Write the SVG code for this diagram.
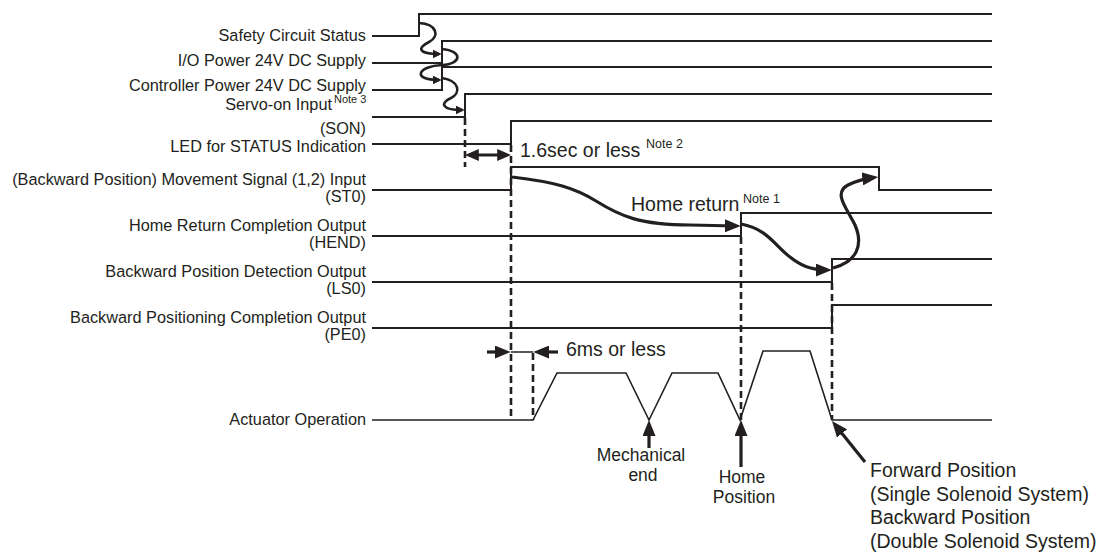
<svg xmlns="http://www.w3.org/2000/svg" width="1104" height="554" viewBox="0 0 1104 554">
<style>
  text { font-family: "Liberation Sans", Arial, Helvetica, sans-serif; fill: #231f20; }
  .lbl { font-size: 16.3px; text-anchor: end; }
  .big { font-size: 19.5px; }
  .stack { font-size: 17.5px; text-anchor: middle; }
  .note { font-size: 12.5px; }
  .sig { fill: none; stroke: #231f20; stroke-width: 2; stroke-linejoin: miter; }
  .act { fill: none; stroke: #231f20; stroke-width: 1.6; stroke-linejoin: miter; }
  .dash { fill: none; stroke: #231f20; stroke-width: 2.6; stroke-dasharray: 7 4; }
  .cur { fill: none; stroke: #231f20; stroke-width: 3.2; stroke-linecap: butt; }
  .cur2 { fill: none; stroke: #231f20; stroke-width: 2.6; }
  .thin { fill: none; stroke: #231f20; stroke-width: 1.5; }
</style>
<defs>
  <marker id="arrS" markerUnits="userSpaceOnUse" viewBox="0 0 10 10" refX="7" refY="5" markerWidth="9" markerHeight="9" orient="auto">
    <path d="M0,0 L10,5 L0,10 z" fill="#231f20"/>
  </marker>
  <marker id="arrL" markerUnits="userSpaceOnUse" viewBox="0 0 10 10" refX="7" refY="5" markerWidth="16" markerHeight="13" orient="auto-start-reverse" preserveAspectRatio="none">
    <path d="M0,0 L10,5 L0,10 z" fill="#231f20"/>
  </marker>
  <marker id="arrM" markerUnits="userSpaceOnUse" viewBox="0 0 10 10" refX="7" refY="5" markerWidth="14" markerHeight="12" orient="auto-start-reverse" preserveAspectRatio="none">
    <path d="M0,0 L10,5 L0,10 z" fill="#231f20"/>
  </marker>
</defs>

<g id="safety">
  <text class="lbl" x="366" y="41">Safety Circuit Status</text>
  <polyline class="sig" points="372,36 419,36 419,14 992,14"/>
</g>
<g id="io-power">
  <text class="lbl" x="366" y="66">I/O Power 24V DC Supply</text>
  <polyline class="sig" points="372,63 442,63 442,41 992,41"/>
</g>
<g id="ctrl-power">
  <text class="lbl" x="366" y="91">Controller Power 24V DC Supply</text>
  <polyline class="sig" points="372,90 442,90 442,67 992,67"/>
</g>
<g id="servo-on">
  <text class="lbl" x="332" y="110">Servo-on Input</text>
  <text x="334" y="103" style="font-size:11px">Note 3</text>
  <text class="lbl" x="366" y="134">(SON)</text>
  <polyline class="sig" points="372,117 465,117 465,94 992,94"/>
</g>
<g id="led">
  <text class="lbl" x="366" y="152">LED for STATUS Indication</text>
  <polyline class="sig" points="372,144 511,144 511,121 992,121"/>
</g>
<g id="st0">
  <text class="lbl" x="366" y="185">(Backward Position) Movement Signal (1,2) Input</text>
  <text class="lbl" x="366" y="202">(ST0)</text>
  <polyline class="sig" points="372,190 511,190 511,167 879,167 879,190 992,190"/>
</g>
<g id="hend">
  <text class="lbl" x="366" y="231">Home Return Completion Output</text>
  <text class="lbl" x="366" y="248">(HEND)</text>
  <polyline class="sig" points="372,236 741,236 741,213 992,213"/>
</g>
<g id="ls0">
  <text class="lbl" x="366" y="277">Backward Position Detection Output</text>
  <text class="lbl" x="366" y="294">(LS0)</text>
  <polyline class="sig" points="372,282 832,282 832,259 992,259"/>
</g>
<g id="pe0">
  <text class="lbl" x="366" y="323">Backward Positioning Completion Output</text>
  <text class="lbl" x="366" y="340">(PE0)</text>
  <polyline class="sig" points="372,328 832,328 832,305 992,305"/>
</g>
<g id="actuator">
  <text class="lbl" x="366" y="425">Actuator Operation</text>
  <polyline class="act" points="372,420 533,420 557,373 626,373 649,420 672,373 718,373 740,420 763,351 810,351 832,420 992,420"/>
</g>

<g id="timing-marks">
  <line class="dash" x1="465" y1="118" x2="465" y2="167"/>
  <line class="dash" x1="511" y1="145" x2="511" y2="420"/>
  <line class="dash" x1="533" y1="353" x2="533" y2="420"/>
  <line class="dash" x1="741" y1="237" x2="741" y2="420"/>
  <line class="dash" x1="832" y1="283" x2="832" y2="420"/>
  <text class="big" x="520" y="157">1.6sec or less</text>
  <text class="note" x="646" y="148">Note 2</text>
  <text class="big" x="631" y="211">Home return</text>
  <text class="note" x="743" y="203">Note 1</text>
  <text class="big" x="566" y="356">6ms or less</text>
</g>

<g id="mechanical-end">
  <text class="stack" x="641" y="461">Mechanical</text>
  <text class="stack" x="643" y="481">end</text>
</g>
<g id="home-position">
  <text class="stack" x="742" y="483">Home</text>
  <text class="stack" x="744" y="503">Position</text>
</g>
<g id="forward-position">
  <text class="big" x="870" y="477">Forward Position</text>
  <text class="big" x="870" y="501">(Single Solenoid System)</text>
  <text class="big" x="870" y="524">Backward Position</text>
  <text class="big" x="870" y="548">(Double Solenoid System)</text>
</g>

<g id="connectors">
  <path class="cur2" marker-end="url(#arrS)" d="M419,23 C437,24 440,36 429,42 C417,48 418,54 439,54"/>
  <path class="cur2" marker-end="url(#arrS)" d="M442,49 C463,51 462,64 442,65 C418,66 411,80 439,80"/>
  <path class="cur2" marker-end="url(#arrS)" d="M442,78 C460,81 461,93 451,98 C440,103 441,110 462,110"/>
  <path class="cur" marker-start="url(#arrM)" marker-end="url(#arrM)" d="M469,155 L507,155"/>
  <path class="cur" marker-end="url(#arrL)" d="M512,177 C555,182 575,188 596,201 C620,216 640,225 690,225 L736,226"/>
  <path class="cur" marker-end="url(#arrL)" d="M741,224 C768,229 775,246 790,257 C800,265 810,270 827,270"/>
  <path class="cur" marker-end="url(#arrL)" d="M833,268 C856,262 864,246 855,225 C846,207 833,193 848,185 C856,181 862,179 873.5,177.6"/>
  <path class="cur" marker-end="url(#arrL)" d="M487,352 L506,352"/>
  <path class="cur" marker-end="url(#arrL)" d="M558,352 L538,352"/>
  <line class="thin" x1="511" y1="352" x2="533" y2="352"/>
  <path class="cur" marker-end="url(#arrL)" d="M649,448 L649,424.8"/>
  <path class="cur" marker-end="url(#arrL)" d="M741,467 L741,424.8"/>
  <path class="cur" marker-end="url(#arrL)" d="M865,462 L835,424.7"/>
</g>
</svg>
